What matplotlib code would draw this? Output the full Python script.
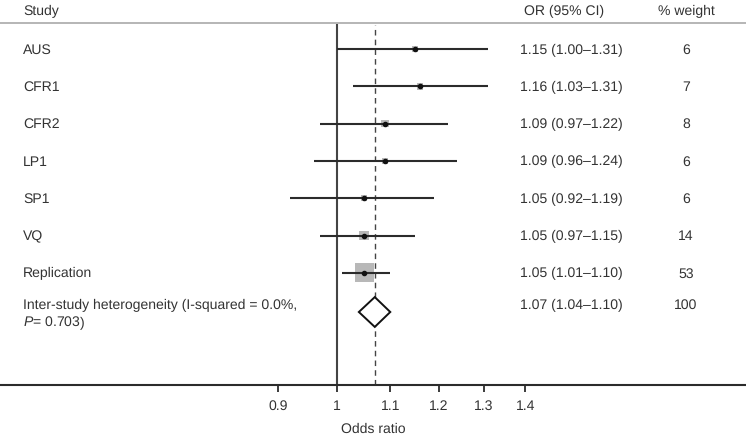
import matplotlib
matplotlib.use("Agg")
import matplotlib.pyplot as plt
from matplotlib.patches import Polygon
import matplotlib.transforms as mtransforms

plt.rcParams['font.family'] = ['Liberation Sans', 'DejaVu Sans']
plt.rcParams['mathtext.fontset'] = 'custom'
plt.rcParams['mathtext.it'] = 'Liberation Sans:italic'
plt.rcParams['mathtext.rm'] = 'Liberation Sans'
plt.rcParams['text.hinting'] = 'no_hinting'
plt.rcParams['text.hinting_factor'] = 1

studies = ["AUS", "CFR1", "CFR2", "LP1", "SP1", "VQ", "Replication"]
or_vals = [1.15, 1.16, 1.09, 1.09, 1.05, 1.05, 1.05]
ci_low = [1.00, 1.03, 0.97, 0.96, 0.92, 0.97, 1.01]
ci_high = [1.31, 1.31, 1.22, 1.24, 1.19, 1.15, 1.10]
weights = [6, 7, 8, 6, 6, 14, 53]
overall_or, overall_low, overall_high = 1.07, 1.04, 1.10
overall_weight = 100
het_text = ["Inter-study heterogeneity (I-squared = 0.0%,", r"$P$= 0.703)"]
xticks = [0.9, 1, 1.1, 1.2, 1.3, 1.4]
xtick_labels = ["0.9", "1", "1.1", "1.2", "1.3", "1.4"]

W, H = 746, 435
fig = plt.figure(figsize=(W / 100, H / 100), dpi=100)
ax_bottom_px = 386
ax = fig.add_axes([0, (H - ax_bottom_px) / H, 1, ax_bottom_px / H])

row_px = 37.3
top_px = 50
def ypos(px):
    return (px - top_px) / row_px

ax.set_xscale('log')
ax.set_xlim(0.548, 2.076)
ax.set_ylim(ypos(ax_bottom_px), ypos(0))

line_c = '#2b2b2b'
text_c = '#333333'
fs = 10.2

rows = list(range(len(studies)))
overall_y = ypos(313)

# CI lines
for y, lo, hi in zip(rows, ci_low, ci_high):
    ax.plot([lo, hi], [y, y], color=line_c, lw=1.5, solid_capstyle='butt', zorder=3)
# weight squares
ax.scatter(or_vals, rows, s=[3.55 * w for w in weights], marker='s', color='#b8b8b8',
           edgecolors='none', zorder=2)
ax.scatter(or_vals, rows, s=9, marker='o', color='#111111', zorder=4)

# diamond
dh = 0.4
diamond = Polygon([[overall_low, overall_y], [overall_or, overall_y - dh],
                   [overall_high, overall_y], [overall_or, overall_y + dh]],
                  closed=True, facecolor='white', edgecolor='#111111', lw=1.4, zorder=3)
ax.add_patch(diamond)

# reference lines
header_px = 24
frac_top = (ax_bottom_px - header_px - 2) / ax_bottom_px
ax.axvline(1, ymin=0, ymax=frac_top, color='#444444', lw=1.5, zorder=1)
ax.axvline(overall_or, ymin=0, ymax=frac_top, color='#444444', lw=1.0, ls=(0, (4, 3)), zorder=1)
ax.axhline(ypos(header_px), color='#b0b0b0', lw=1.3)

# text columns
trans = mtransforms.blended_transform_factory(ax.transAxes, ax.transData)
x_study = 23 / W
x_or = 520 / W
x_wt = 686 / W
hy = ypos(11)
ax.text(x_study, hy, "Study", transform=trans, ha='left', va='center', fontsize=fs, color=text_c)
ax.text(x_or + 4 / W, hy, "OR (95% CI)", transform=trans, ha='left', va='center', fontsize=fs, color=text_c)
ax.text(x_wt, hy, "% weight", transform=trans, ha='center', va='center', fontsize=fs, color=text_c)

for y, name, o, lo, hi, w in zip(rows, studies, or_vals, ci_low, ci_high, weights):
    ax.text(x_study, y, name, transform=trans, ha='left', va='center', fontsize=fs, color=text_c)
    ax.text(x_or, y, f"{o:.2f} ({lo:.2f}\u2013{hi:.2f})", transform=trans, ha='left',
            va='center', fontsize=fs, color=text_c)
    ax.text(x_wt, y, f"{w}", transform=trans, ha='center', va='center', fontsize=fs, color=text_c)

ax.text(x_study, ypos(305), het_text[0], transform=trans, ha='left', va='center', fontsize=fs, color=text_c)
ax.text(x_study, ypos(323), het_text[1], transform=trans, ha='left', va='center', fontsize=fs, color=text_c)
ax.text(x_or, ypos(305), f"{overall_or:.2f} ({overall_low:.2f}\u2013{overall_high:.2f})", transform=trans,
        ha='left', va='center', fontsize=fs, color=text_c)
ax.text(x_wt, ypos(305), f"{overall_weight}", transform=trans, ha='center', va='center', fontsize=fs, color=text_c)

# axes styling
for s in ['top', 'left', 'right']:
    ax.spines[s].set_visible(False)
ax.spines['bottom'].set_color(line_c)
ax.spines['bottom'].set_linewidth(1.5)
ax.set_yticks([])
ax.set_xticks(xticks)
ax.set_xticklabels(xtick_labels)
ax.xaxis.set_minor_locator(matplotlib.ticker.NullLocator())
ax.tick_params(axis='x', direction='out', length=5, width=1.3, color=line_c,
               labelsize=fs, labelcolor=text_c, pad=5)
ax.set_xlabel("Odds ratio", fontsize=fs, color=text_c, labelpad=7)

fig.savefig("out.png", dpi=100)
